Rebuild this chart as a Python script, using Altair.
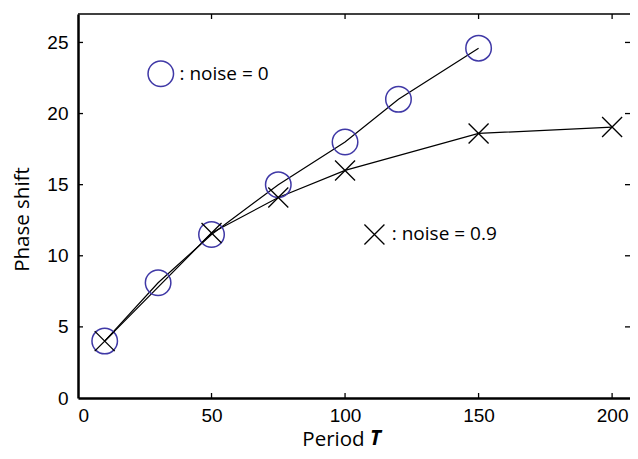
import altair as alt
import pandas as pd

# ---- data ----
period_noise0 = [10, 30, 50, 75, 100, 120, 150]
shift_noise0 = [4.0, 8.1, 11.5, 15.0, 18.0, 21.0, 24.6]

period_noise09 = [10, 50, 75, 100, 150, 200]
shift_noise09 = [4.0, 11.6, 14.1, 16.0, 18.6, 19.05]

legend_marker_x = [31.0, 111.0]
legend_marker_y = [22.8, 11.5]
legend_text_x = [38.0, 117.5]
legend_labels = [": noise = 0", ": noise = 0.9"]

x_tick_values = [0, 50, 100, 150, 200]
y_tick_values = [0, 5, 10, 15, 20, 25]
x_inner_ticks = [50, 100, 150, 200]
y_inner_ticks = [5, 10, 15, 20, 25]

W, H = 552, 384
CIRCLE_COLOR = "#3f38a6"
CROSS_PATH = "M-1,-1L1,1M1,-1L-1,1"

df0 = pd.DataFrame({"T": period_noise0, "S": shift_noise0})
df9 = pd.DataFrame({"T": period_noise09, "S": shift_noise09})
leg_circle = pd.DataFrame({"T": [legend_marker_x[0]], "S": [legend_marker_y[0]]})
leg_cross = pd.DataFrame({"T": [legend_marker_x[1]], "S": [legend_marker_y[1]]})
leg_text = pd.DataFrame({"T": legend_text_x, "S": legend_marker_y, "label": legend_labels})
xt = pd.DataFrame({"T": x_inner_ticks})
yt = pd.DataFrame({"S": y_inner_ticks})

xscale = alt.Scale(domain=[0, 206.7], nice=False, zero=False)
yscale = alt.Scale(domain=[0, 27], nice=False, zero=False)

x_axis = alt.Axis(
    values=x_tick_values, ticks=False, tickSize=0, grid=False,
    domainColor="black", domainWidth=2.5,
    labelFont="Liberation Sans", labelFontSize=19, labelColor="black",
    labelPadding=8, labelFlush=True, labelOverlap=False,
    title="Period", titleFont="Open Sans", titleFontSize=20.5,
    titleFontWeight="normal", titleColor="black",
    titleX=255, titleY=47, titleAlign="center", titleBaseline="alphabetic",
)
y_axis = alt.Axis(
    values=y_tick_values, ticks=False, tickSize=0, grid=False,
    domainColor="black", domainWidth=2.5,
    labelFont="Liberation Sans", labelFontSize=19, labelColor="black",
    labelPadding=10, labelOverlap=False,
    title="Phase shift", titleFont="Open Sans", titleFontSize=20.5,
    titleFontWeight="normal", titleColor="black", titleAngle=270,
    titleX=-56, titleY=205, titleAlign="center", titleBaseline="middle",
)


def X():
    return alt.X("T:Q", scale=xscale, axis=x_axis)


def Y():
    return alt.Y("S:Q", scale=yscale, axis=y_axis)


line0 = alt.Chart(df0).mark_line(color="black", strokeWidth=1.2).encode(x=X(), y=Y())
line9 = alt.Chart(df9).mark_line(color="black", strokeWidth=1.2).encode(x=X(), y=Y())

circles = alt.Chart(df0).mark_point(
    shape="circle", filled=False, color=CIRCLE_COLOR, size=650, strokeWidth=1.5, opacity=1
).encode(x=X(), y=Y())
crosses = alt.Chart(df9).mark_point(
    shape=CROSS_PATH, filled=False, color="black", size=400, strokeWidth=1.3, opacity=1
).encode(x=X(), y=Y())

lc = alt.Chart(leg_circle).mark_point(
    shape="circle", filled=False, color=CIRCLE_COLOR, size=650, strokeWidth=1.5, opacity=1
).encode(x=X(), y=Y())
lx = alt.Chart(leg_cross).mark_point(
    shape=CROSS_PATH, filled=False, color="black", size=400, strokeWidth=1.3, opacity=1
).encode(x=X(), y=Y())
lt = alt.Chart(leg_text).mark_text(
    align="left", baseline="middle", font="Open Sans", fontSize=19, color="black"
).encode(x=X(), y=Y(), text="label:N")

# inward ticks on all four sides, and the thin top border
tb = alt.Chart(xt).mark_rule(color="black", strokeWidth=1.3).encode(
    x=X(), y=alt.value(H), y2=alt.value(H - 5))
tt = alt.Chart(xt).mark_rule(color="black", strokeWidth=1.3).encode(
    x=X(), y=alt.value(0), y2=alt.value(5))
tl = alt.Chart(yt).mark_rule(color="black", strokeWidth=1.3).encode(
    y=Y(), x=alt.value(0), x2=alt.value(5))
tr = alt.Chart(yt).mark_rule(color="black", strokeWidth=1.3).encode(
    y=Y(), x=alt.value(W), x2=alt.value(W - 5))
top_border = alt.Chart(pd.DataFrame({"b": [0]})).mark_rule(
    color="black", strokeWidth=1.6
).encode(x=alt.value(0), x2=alt.value(W), y=alt.value(0))

t_label = alt.Chart(pd.DataFrame({"t": ["T"]})).mark_text(
    align="left", baseline="alphabetic", font="Open Sans", fontSize=20.5,
    fontWeight="bold", fontStyle="italic", color="black"
).encode(x=alt.value(292), y=alt.value(H + 47), text="t:N")

chart = alt.layer(
    line0, line9, circles, crosses, lc, lx, lt, tb, tt, tl, tr, top_border, t_label
).properties(
    width=W, height=H,
    autosize=alt.AutoSizeParams(type="none"),
    padding={"left": 70, "top": 6, "right": 0, "bottom": 53},
).configure_view(stroke=None)

chart.save("out.html", embed_options={"renderer": "svg", "actions": False})
